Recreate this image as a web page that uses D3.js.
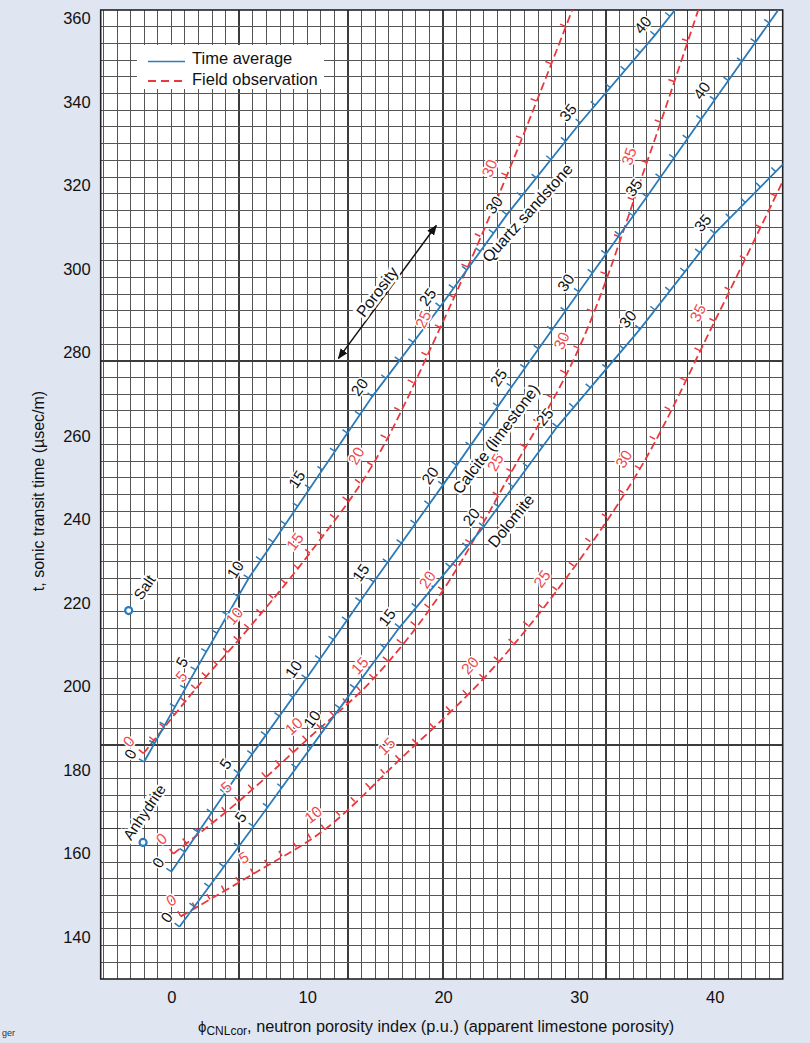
<!DOCTYPE html>
<html>
<head>
<meta charset="utf-8">
<script src="https://cdn.jsdelivr.net/npm/d3@7"></script>
<style>
  body { margin: 0; background: #dfe6f1; }
  svg text { font-family: "Liberation Sans", Arial, sans-serif; }
</style>
</head>
<body>
<svg id="chart" width="810" height="1043"></svg>
<script>
// ---- data ----
// time average lines: porosity (p.u.), neutron index (p.u.), sonic (usec/m)
const sandPhi = [0, 5, 10, 15, 20, 25, 30, 35, 40, 42]
const sandN = [-2.0, 1.8, 5.7, 10.2, 14.8, 19.8, 24.7, 30.1, 35.6, 37.8]
const sandDt = [182, 204, 226, 247.5, 269.5, 291, 313, 335, 356, 365]

const calcPhi = [0, 5, 10, 15, 20, 25, 30, 35, 40, 45]
const calcN = [0, 4.95, 9.95, 14.9, 20, 25.05, 30, 35, 40, 45]
const calcDt = [155.7, 179.3, 202, 225.1, 248.3, 271.8, 294.5, 317.3, 340.5, 363.5]

const doloPhi = [0, 5, 10, 15, 20, 25, 30, 35, 40]
const doloN = [0.6, 6.05, 11.3, 16.8, 23.0, 28.4, 34.5, 40.0, 45.6]
const doloDt = [142.5, 166.5, 190, 214.2, 238.3, 262.2, 285.6, 308.5, 327]

// field observation curves
const sandFieldPhi = [0, 5, 10, 15, 20, 25, 30, 35]
const sandFieldN = [-2.05, 1.8, 5.7, 10.2, 14.8, 19.8, 24.7, 30.1]
const sandFieldDt = [184, 199.5, 214, 232, 253, 286, 322.4, 367]

const calcFieldPhi = [0, 5, 10, 15, 20, 25, 30, 35, 40]
const calcFieldN = [0.15, 4.95, 9.95, 14.9, 20, 25.05, 30, 35, 40]
const calcFieldDt = [160, 172.5, 187.2, 202, 223.1, 251.5, 281, 325.5, 374]

const doloFieldPhi = [0, 5, 10, 15, 20, 25, 30, 35, 40]
const doloFieldN = [0.7, 6.05, 11.3, 16.8, 23.0, 28.4, 34.5, 40.0, 45.6]
const doloFieldDt = [145, 155.2, 165.8, 182.5, 202, 223.1, 252.2, 287.5, 325]

const labelPhi = [0, 5, 10, 15, 20, 25, 30, 35, 40]

// minerals
const minerals = [
  { name: 'Salt', n: -3.14, dt: 218.2, ln: -2.0, ldt: 223.8 },
  { name: 'Anhydrite', n: -2.08, dt: 162.7, ln: -2.0, ldt: 170.0 }
]

// rotated text labels
const lithoLabels = [
  { text: 'Quartz sandstone', n: 26.2, dt: 313.4, angle: -48 },
  { text: 'Calcite (limestone)', n: 23.9, dt: 259.3, angle: -53 },
  { text: 'Dolomite', n: 25.0, dt: 239.7, angle: -51 }
]
const porosityArrow = { n1: 12.3, dt1: 278.6, n2: 19.5, dt2: 310.4, n: 15.15, dt: 294.5, angle: -53 }

const yTicks = [140, 160, 180, 200, 220, 240, 260, 280, 300, 320, 340, 360]
const xTicks = [0, 10, 20, 30, 40]
const gridN = d3.range(-5, 46, 1)
const gridDt = d3.range(130, 363, 4)
const heavyN = [5, 13, 20, 29, 32, 38]
const heavyDt = [278, 186, 166]

// ---- layout ----
const plot = { left: 100.7, right: 782.7, top: 10, bottom: 979 }
const blue = '#2b7bba'
const red = '#e8383d'

const svg = d3.select('#chart')

const xScale = d3.scaleLinear().domain([-5.2, 45]).range([plot.left, plot.right])
const yScale = d3.scaleLinear().domain([130, 362]).range([plot.bottom, plot.top])

svg.append('defs')
  .append('clipPath').attr('id', 'plotClip')
  .append('rect')
  .attr('x', plot.left).attr('y', plot.top)
  .attr('width', plot.right - plot.left).attr('height', plot.bottom - plot.top)

const marker = svg.select('defs').append('marker')
  .attr('id', 'arrow').attr('viewBox', '0 0 10 10')
  .attr('refX', 9).attr('refY', 5)
  .attr('markerWidth', 7).attr('markerHeight', 7)
  .attr('orient', 'auto-start-reverse')
marker.append('path').attr('d', 'M0,1 L10,5 L0,9 Z').attr('fill', '#111')

// plot background
svg.append('rect')
  .attr('x', plot.left).attr('y', plot.top)
  .attr('width', plot.right - plot.left).attr('height', plot.bottom - plot.top)
  .attr('fill', '#fff')

/// grid ////////////////////////////////
const grid = svg.append('g').attr('shape-rendering', 'crispEdges')
grid.selectAll('.vgrid')
  .data(gridN.filter(d => xScale(d) > plot.left && xScale(d) < plot.right))
  .enter().append('line')
  .attr('x1', d => xScale(d)).attr('x2', d => xScale(d))
  .attr('y1', plot.top).attr('y2', plot.bottom)
  .attr('stroke', d => heavyN.includes(d) ? '#3c3c3c' : '#555')
  .attr('stroke-width', d => heavyN.includes(d) ? 1.6 : 1)

grid.selectAll('.hgrid')
  .data(gridDt.filter(d => yScale(d) > plot.top && yScale(d) < plot.bottom))
  .enter().append('line')
  .attr('y1', d => yScale(d)).attr('y2', d => yScale(d))
  .attr('x1', plot.left).attr('x2', plot.right)
  .attr('stroke', d => heavyDt.includes(d) ? '#3c3c3c' : '#555')
  .attr('stroke-width', d => heavyDt.includes(d) ? 1.6 : 1)

svg.append('rect')
  .attr('x', plot.left).attr('y', plot.top)
  .attr('width', plot.right - plot.left).attr('height', plot.bottom - plot.top)
  .attr('fill', 'none').attr('stroke', '#222').attr('stroke-width', 1.6)

/// curves ////////////////////////////////
const chartG = svg.append('g')
const curveG = chartG.append('g').attr('clip-path', 'url(#plotClip)')
const labelG = chartG.append('g')

function inPlot(p) {
  return p[0] >= plot.left + 2 && p[0] <= plot.right - 2 && p[1] >= plot.top + 2 && p[1] <= plot.bottom - 2
}

function drawCurve(phi, ns, dts, opts) {
  const nAt = d3.scaleLinear().domain(phi).range(ns)
  const dtAt = d3.scaleLinear().domain(phi).range(dts)
  const pos = p => [xScale(nAt(p)), yScale(dtAt(p))]
  const pts = phi.map((p, i) => [xScale(ns[i]), yScale(dts[i])])

  curveG.append('path')
    .attr('d', d3.line().curve(opts.dashed ? d3.curveCatmullRom : d3.curveLinear)(pts))
    .attr('fill', 'none')
    .attr('stroke', opts.color)
    .attr('stroke-width', 1.8)
    .attr('stroke-dasharray', opts.dashed ? '8,4' : null)

  const maxPhi = d3.max(phi)
  const ticks = d3.range(0, Math.floor(maxPhi) + 1).map(p => {
    const a = pos(Math.max(0, p - 0.3))
    const b = pos(Math.min(maxPhi, p + 0.3))
    const len = Math.hypot(b[0] - a[0], b[1] - a[1])
    const dir = [(b[0] - a[0]) / len, (b[1] - a[1]) / len]
    return { p, at: pos(p), dir, perp: [dir[1], -dir[0]] }
  })

  curveG.selectAll(null)
    .data(ticks)
    .enter().append('line')
    .attr('x1', d => d.at[0]).attr('y1', d => d.at[1])
    .attr('x2', d => d.at[0] + d.perp[0] * 6).attr('y2', d => d.at[1] + d.perp[1] * 6)
    .attr('stroke', opts.color).attr('stroke-width', 1.5)

  labelG.selectAll(null)
    .data(ticks.filter(d => labelPhi.includes(d.p) && inPlot(d.at)))
    .enter().append('text')
    .attr('transform', d => {
      const lx = d.at[0] + d.perp[0] * opts.dist
      const ly = d.at[1] + d.perp[1] * opts.dist
      const ang = Math.atan2(d.dir[1], d.dir[0]) * 180 / Math.PI
      return `translate(${lx},${ly}) rotate(${ang})`
    })
    .attr('text-anchor', 'middle')
    .attr('dominant-baseline', 'central')
    .attr('font-size', 15.5)
    .attr('fill', opts.labelColor)
    .attr('stroke', '#fff').attr('stroke-width', 3).attr('paint-order', 'stroke')
    .text(d => d.p)
}

drawCurve(sandFieldPhi, sandFieldN, sandFieldDt, { color: red, dashed: true, labelColor: '#ef4a4f', dist: 19 })
drawCurve(calcFieldPhi, calcFieldN, calcFieldDt, { color: red, dashed: true, labelColor: '#ef4a4f', dist: 19 })
drawCurve(doloFieldPhi, doloFieldN, doloFieldDt, { color: red, dashed: true, labelColor: '#ef4a4f', dist: 19 })
drawCurve(sandPhi, sandN, sandDt, { color: blue, dashed: false, labelColor: '#111', dist: 16 })
drawCurve(calcPhi, calcN, calcDt, { color: blue, dashed: false, labelColor: '#111', dist: 16 })
drawCurve(doloPhi, doloN, doloDt, { color: blue, dashed: false, labelColor: '#111', dist: 16 })

/// lithology labels ////////////////////////////////
labelG.selectAll('.litho')
  .data(lithoLabels)
  .enter().append('text')
  .attr('transform', d => `translate(${xScale(d.n)},${yScale(d.dt)}) rotate(${d.angle})`)
  .attr('text-anchor', 'middle').attr('dominant-baseline', 'central')
  .attr('font-size', 16).attr('fill', '#111')
  .attr('stroke', '#fff').attr('stroke-width', 4).attr('paint-order', 'stroke')
  .text(d => d.text)

// porosity arrow
labelG.append('line')
  .attr('x1', xScale(porosityArrow.n1)).attr('y1', yScale(porosityArrow.dt1))
  .attr('x2', xScale(porosityArrow.n2)).attr('y2', yScale(porosityArrow.dt2))
  .attr('stroke', '#111').attr('stroke-width', 1.5)
  .attr('marker-start', 'url(#arrow)').attr('marker-end', 'url(#arrow)')
labelG.append('text')
  .attr('transform', `translate(${xScale(porosityArrow.n)},${yScale(porosityArrow.dt)}) rotate(${porosityArrow.angle})`)
  .attr('text-anchor', 'middle').attr('dominant-baseline', 'central')
  .attr('font-size', 16).attr('fill', '#111')
  .attr('stroke', '#fff').attr('stroke-width', 5).attr('paint-order', 'stroke')
  .text('Porosity')

// minerals
labelG.selectAll('.mineral')
  .data(minerals)
  .enter().append('circle')
  .attr('cx', d => xScale(d.n)).attr('cy', d => yScale(d.dt))
  .attr('r', 3.5).attr('fill', '#fff').attr('stroke', blue).attr('stroke-width', 2.2)
labelG.selectAll('.mineralLabel')
  .data(minerals)
  .enter().append('text')
  .attr('transform', d => `translate(${xScale(d.ln)},${yScale(d.ldt)}) rotate(-56)`)
  .attr('text-anchor', 'middle').attr('dominant-baseline', 'central')
  .attr('font-size', 15).attr('fill', '#111')
  .attr('stroke', '#fff').attr('stroke-width', 4).attr('paint-order', 'stroke')
  .text(d => d.name)

/// legend ////////////////////////////////
const legend = svg.append('g')
legend.append('rect').attr('x', 137).attr('y', 45).attr('width', 187).attr('height', 44).attr('fill', '#fff')
legend.append('line').attr('x1', 148).attr('x2', 185).attr('y1', 61.5).attr('y2', 61.5)
  .attr('stroke', blue).attr('stroke-width', 1.6)
legend.append('line').attr('x1', 148).attr('x2', 185).attr('y1', 81).attr('y2', 81)
  .attr('stroke', red).attr('stroke-width', 2).attr('stroke-dasharray', '8,5')
legend.append('text').attr('x', 192).attr('y', 64).attr('font-size', 16.5).attr('fill', '#111').text('Time average')
legend.append('text').attr('x', 192).attr('y', 85).attr('font-size', 16.5).attr('fill', '#111').text('Field observation')

/// axes ////////////////////////////////
const yAxis = svg.append('g')
  .attr('transform', `translate(${plot.left},0)`)
  .call(d3.axisLeft(yScale).tickValues(yTicks).tickSize(0).tickPadding(10))
yAxis.select('.domain').remove()
yAxis.selectAll('text').attr('font-size', 16.5).attr('fill', '#111')
  .attr('font-family', '"Liberation Sans", Arial, sans-serif')

const xAxis = svg.append('g')
  .attr('transform', `translate(0,${plot.bottom})`)
  .call(d3.axisBottom(xScale).tickValues(xTicks).tickSize(0).tickPadding(12))
xAxis.select('.domain').remove()
xAxis.selectAll('text').attr('font-size', 16.5).attr('fill', '#111')
  .attr('font-family', '"Liberation Sans", Arial, sans-serif')

// axis titles
svg.append('text')
  .attr('transform', 'translate(44,491) rotate(-90)')
  .attr('text-anchor', 'middle').attr('font-size', 16).attr('fill', '#111')
  .text('t, sonic transit time (µsec/m)')

const xTitle = svg.append('text').attr('x', 198).attr('y', 1032).attr('fill', '#111').attr('font-size', 16.3)
xTitle.append('tspan').attr('font-size', 15).text('ϕ')
xTitle.append('tspan').attr('font-size', 12).attr('dy', 3).text('CNLcor')
xTitle.append('tspan').attr('dy', -3).text(', neutron porosity index (p.u.) (apparent limestone porosity)')

svg.append('text').attr('x', 2).attr('y', 1036).attr('font-size', 9).attr('fill', '#333').text('ger')
</script>
</body>
</html>
